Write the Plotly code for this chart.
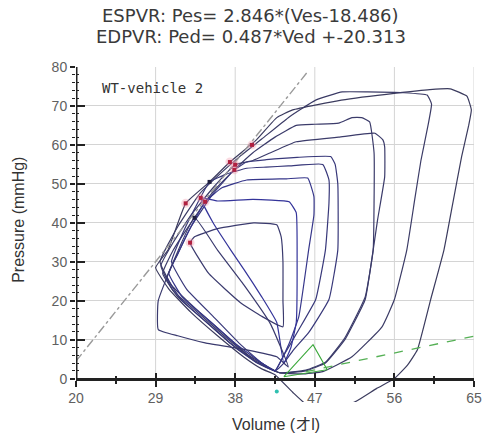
import plotly.graph_objects as go

# ---------------- data ----------------
x_ticks = [20, 29, 38, 47, 56, 65]
y_ticks = [0, 10, 20, 30, 40, 50, 60, 70, 80]

A_vol = [42.5, 44.5, 46.5, 49.0, 51.6, 54.0, 56.0, 57.5, 58.6, 60.1, 61.6, 62.6, 63.6, 64.4, 64.7, 64.2, 62.3, 60.0, 56.2, 50.0, 44.5, 42.7, 40.4, 37.4, 35.1, 32.4, 30.4, 29.0, 30.5, 33.0, 36.0, 39.0, 41.0, 42.5]
A_pres = [1.0, -3.5, -7.5, -8.0, -5.9, -2.5, 0.0, 3.5, 7.4, 20.3, 33.0, 45.0, 57.0, 65.0, 69.0, 72.5, 74.4, 74.2, 73.3, 71.5, 69.0, 67.0, 61.3, 55.6, 50.5, 45.0, 33.0, 28.5, 23.0, 17.0, 11.0, 5.5, 2.5, 1.0]

B_vol = [43.0, 45.5, 47.9, 51.2, 54.6, 56.0, 57.4, 58.3, 59.0, 59.8, 60.2, 59.7, 57.0, 53.0, 50.1, 47.1, 44.0, 41.0, 38.5, 36.5, 34.0, 31.5, 29.5, 30.8, 33.5, 36.5, 39.5, 43.0]
B_pres = [1.5, 1.2, 1.8, 5.6, 13.3, 20.3, 33.0, 46.0, 56.0, 65.0, 70.5, 72.8, 73.4, 73.6, 73.6, 71.5, 67.0, 61.5, 57.0, 53.0, 47.5, 39.0, 30.0, 24.0, 18.0, 12.0, 6.0, 1.5]

C_vol = [43.0, 46.0, 48.2, 50.4, 52.7, 53.6, 54.1, 54.9, 54.9, 54.7, 53.8, 49.7, 44.9, 42.0, 40.0, 38.0, 35.5, 33.0, 31.0, 29.6, 31.0, 34.0, 37.0, 40.0, 43.0]
C_pres = [1.5, 2.0, 4.0, 10.0, 20.3, 33.0, 40.8, 51.8, 59.5, 61.3, 63.0, 62.0, 60.8, 58.0, 56.0, 54.9, 49.0, 42.0, 35.0, 29.0, 22.5, 16.5, 10.5, 5.0, 1.5]

D_vol = [43.0, 46.0, 48.2, 50.4, 52.7, 53.6, 53.7, 53.7, 53.2, 52.3, 51.2, 49.7, 47.0, 44.9, 42.5, 40.0, 37.9, 35.5, 33.0, 31.0, 29.8, 31.5, 34.5, 37.5, 40.5, 43.0]
D_pres = [1.5, 2.2, 4.2, 10.5, 21.0, 33.0, 45.0, 58.0, 65.9, 67.0, 67.0, 65.6, 65.3, 65.0, 62.0, 58.0, 53.6, 48.0, 40.0, 33.0, 27.0, 21.0, 15.0, 9.0, 4.0, 1.5]

E_vol = [42.5, 43.5, 44.6, 46.3, 48.6, 49.6, 49.6, 49.3, 48.8, 45.0, 41.5, 39.3, 37.9, 35.5, 33.0, 31.5, 30.3, 32.0, 35.0, 38.0, 40.5, 42.5]
E_pres = [2.0, 4.0, 7.4, 11.8, 20.3, 33.0, 50.0, 55.0, 57.0, 56.8, 56.2, 55.6, 53.6, 47.5, 39.0, 32.0, 26.0, 20.0, 14.0, 8.0, 4.0, 2.0]

F_vol = [42.5, 43.5, 45.2, 47.1, 48.2, 48.6, 48.6, 47.9, 44.0, 41.5, 39.3, 37.0, 35.1, 33.5, 32.0, 30.8, 32.5, 35.5, 38.5, 41.0, 42.5]
F_pres = [2.0, 6.0, 12.6, 20.3, 33.0, 45.0, 51.0, 55.0, 54.6, 54.3, 54.0, 52.5, 50.5, 44.0, 37.0, 30.0, 23.0, 16.0, 9.0, 4.0, 2.0]

G_vol = [42.5, 44.1, 45.2, 46.3, 46.9, 46.9, 46.2, 43.8, 39.3, 36.5, 34.6, 33.0, 31.5, 30.5, 32.0, 35.0, 38.0, 41.0, 42.5]
G_pres = [2.0, 9.0, 16.0, 33.0, 42.0, 46.7, 51.5, 51.3, 51.0, 49.0, 45.4, 39.0, 32.0, 27.0, 21.0, 15.0, 9.0, 4.0, 2.0]

H_vol = [43.5, 44.3, 44.9, 45.0, 44.9, 44.1, 40.0, 36.0, 34.1, 35.5, 37.5, 39.0, 41.0, 42.7, 43.5]
H_pres = [4.0, 8.0, 14.4, 30.0, 42.6, 45.4, 46.0, 45.6, 46.4, 40.0, 33.0, 28.0, 21.0, 14.4, 4.0]

I_vol = [43.4, 43.4, 43.4, 43.2, 42.7, 40.1, 36.0, 33.4, 32.9, 35.0, 38.6, 41.0, 43.4]
I_pres = [13.3, 20.0, 30.0, 36.4, 39.5, 40.0, 38.5, 36.4, 34.9, 27.0, 19.5, 16.0, 13.3]

J_vol = [44.0, 42.7, 39.3, 34.6, 31.5, 29.3, 29.3, 31.0, 33.4, 36.0, 39.0, 42.0, 44.0]
J_pres = [3.0, 5.6, 7.4, 9.2, 11.0, 12.6, 20.0, 30.0, 41.3, 33.0, 24.0, 14.0, 3.0]

loops = [
    ("A", A_vol, A_pres, "#3b3b5e"),
    ("B", B_vol, B_pres, "#3b3b66"),
    ("C", C_vol, C_pres, "#3b3b6a"),
    ("D", D_vol, D_pres, "#3b3b6a"),
    ("E", E_vol, E_pres, "#38387a"),
    ("F", F_vol, F_pres, "#38387a"),
    ("G", G_vol, G_pres, "#36368a"),
    ("H", H_vol, H_pres, "#34349a"),
    ("I", I_vol, I_pres, "#3a3a6e"),
    ("J", J_vol, J_pres, "#3a3a6e"),
]

tri_vol = [43.5, 46.8, 48.4, 43.5]
tri_pres = [0.5, 8.7, 2.3, 0.5]

espvr_vol = [20.0, 46.2]
espvr_pres = [4.5, 78.8]

edpvr_vol = [46.0, 65.0]
edpvr_pres = [1.8, 10.9]

es_red_vol = [37.4, 37.9, 38.0, 34.1, 34.6, 32.4, 32.9, 39.9]
es_red_pres = [55.6, 53.6, 54.9, 46.4, 45.4, 45.0, 34.9, 60.0]
es_dark_vol = [35.1, 33.4]
es_dark_pres = [50.5, 41.3]

cyan_vol = [42.7]
cyan_pres = [-3.3]

# ---------------- figure ----------------
fig = go.Figure()

for name, v, p, c in loops:
    fig.add_trace(go.Scatter(x=v, y=p, mode="lines", name=name,
                             line=dict(color=c, width=1.2, shape="spline", smoothing=0.35),
                             showlegend=False, hoverinfo="skip"))

fig.add_trace(go.Scatter(x=tri_vol, y=tri_pres, mode="lines",
                         line=dict(color="#3aa83a", width=1.1), showlegend=False))
fig.add_trace(go.Scatter(x=espvr_vol, y=espvr_pres, mode="lines",
                         line=dict(color="#9a9a9a", width=1.4, dash="dashdot"), showlegend=False))
fig.add_trace(go.Scatter(x=edpvr_vol, y=edpvr_pres, mode="lines",
                         line=dict(color="#55b055", width=1.3, dash="dash"), showlegend=False))
fig.add_trace(go.Scatter(x=es_red_vol, y=es_red_pres, mode="markers",
                         marker=dict(color="rgba(240,150,170,0.35)", size=9, symbol="circle"),
                         showlegend=False))
fig.add_trace(go.Scatter(x=es_red_vol, y=es_red_pres, mode="markers",
                         marker=dict(color="#b02040", size=4, symbol="square"), showlegend=False))
fig.add_trace(go.Scatter(x=es_dark_vol, y=es_dark_pres, mode="markers",
                         marker=dict(color="#202040", size=4, symbol="square"), showlegend=False))
fig.add_trace(go.Scatter(x=cyan_vol, y=cyan_pres, mode="markers",
                         marker=dict(color="#30c0b0", size=4), showlegend=False))

ymin, ymax = -6, 80
grid_col = "#d4d4d4"

shapes = []
for xv in x_ticks[1:]:
    shapes.append(dict(type="line", xref="x", yref="y", x0=xv, x1=xv, y0=0, y1=80,
                       line=dict(color=grid_col, width=1), layer="below"))
shapes.append(dict(type="line", xref="x", yref="y", x0=20, x1=20, y0=0, y1=80,
                   line=dict(color="#222222", width=3), layer="above"))

tickfont = dict(family="Liberation Sans, Arial", size=14, color="#606060")
pos0 = (0 - ymin) / (ymax - ymin)

fig.update_layout(
    width=494, height=437,
    margin=dict(l=76, r=13, t=67, b=35),
    paper_bgcolor="white", plot_bgcolor="white",
    shapes=shapes,
    xaxis=dict(range=[20, 65], anchor="free", position=pos0,
               tickvals=x_ticks, ticktext=[str(t) for t in x_ticks],
               showgrid=False, zeroline=False,
               showline=True, linecolor="#222222", linewidth=3,
               ticks="outside", ticklen=6, tickwidth=2, tickcolor="#222222",
               minor=dict(tickvals=[24.5, 33.5, 42.5, 51.5, 60.5], ticks="outside",
                          ticklen=3, tickwidth=1.5, tickcolor="#222222"),
               tickfont=tickfont),
    xaxis2=dict(range=[20, 65], overlaying="x", anchor="free", position=pos0,
                tickvals=x_ticks, showticklabels=False, showgrid=False, zeroline=False,
                ticks="inside", ticklen=6, tickwidth=2, tickcolor="#222222",
                minor=dict(tickvals=[24.5, 33.5, 42.5, 51.5, 60.5], ticks="inside",
                           ticklen=3, tickwidth=1.5, tickcolor="#222222")),
    yaxis=dict(range=[ymin, ymax], tickvals=y_ticks,
               showgrid=True, gridcolor=grid_col, gridwidth=1, zeroline=False,
               showline=False,
               ticks="outside", ticklen=5, tickwidth=2, tickcolor="#222222",
               minor=dict(tickvals=list(range(0, 81, 2)), ticks="outside",
                          ticklen=3, tickwidth=1, tickcolor="#222222", showgrid=False),
               tickfont=tickfont),
    yaxis2=dict(range=[ymin, ymax], overlaying="y", anchor="x", side="left",
                tickvals=y_ticks, showticklabels=False, showgrid=False, zeroline=False,
                ticks="inside", ticklen=9, tickwidth=2, tickcolor="#222222",
                minor=dict(tickvals=list(range(0, 81, 2)), ticks="inside",
                           ticklen=3, tickwidth=1, tickcolor="#222222")),
    annotations=[
        dict(text="ESPVR: Pes= 2.846*(Ves-18.486)", xref="paper", yref="paper",
             x=(254 - 76) / 405, y=(402.4 - 15) / 335.4, xanchor="center", yanchor="middle",
             showarrow=False, font=dict(family="DejaVu Sans", size=18, color="#3a3a3a")),
        dict(text="EDPVR: Ped= 0.487*Ved +-20.313", xref="paper", yref="paper",
             x=(254 - 76) / 405, y=(402.4 - 36) / 335.4, xanchor="center", yanchor="middle",
             showarrow=False, font=dict(family="DejaVu Sans", size=18, color="#3a3a3a")),
        dict(text="WT-vehicle 2", xref="paper", yref="paper",
             x=(100 - 76) / 405, y=(402.4 - 88) / 335.4, xanchor="left", yanchor="middle",
             showarrow=False, font=dict(family="DejaVu Sans Mono", size=14, color="#333333")),
        dict(text="Pressure (mmHg)", xref="paper", yref="paper", textangle=-90,
             x=(18 - 76) / 405, y=(402.4 - 220) / 335.4, xanchor="center", yanchor="middle",
             showarrow=False, font=dict(family="Liberation Sans, Arial", size=16, color="#333333")),
        dict(text="Volume (オl)", xref="paper", yref="paper",
             x=(280 - 76) / 405, y=(402.4 - 425) / 335.4, xanchor="center", yanchor="middle",
             showarrow=False,
             font=dict(family="Liberation Sans, Noto Sans CJK JP", size=16, color="#333333")),
    ],
)

# invisible trace that activates the overlaid tick axes
fig.add_trace(go.Scatter(x=[20], y=[ymin], xaxis="x2", yaxis="y2", mode="markers",
                         marker=dict(opacity=0), showlegend=False, hoverinfo="skip"))

fig.write_html("out.html")
